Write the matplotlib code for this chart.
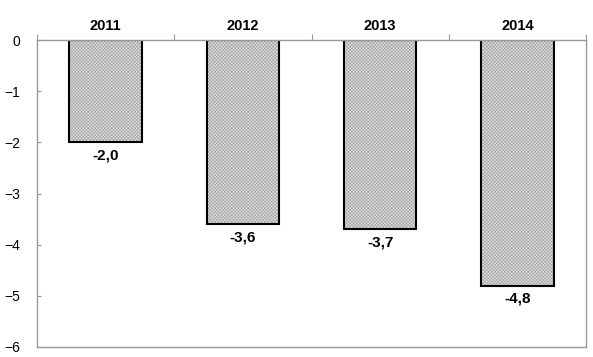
import matplotlib
matplotlib.use("Agg")
import matplotlib.pyplot as plt
import numpy as np

years = ["2011", "2012", "2013", "2014"]
values = [-2.0, -3.6, -3.7, -4.8]
labels = ["-2,0", "-3,6", "-3,7", "-4,8"]
yticks = [0, -1, -2, -3, -4, -5, -6]

plt.rcParams['font.family'] = ['Liberation Sans', 'DejaVu Sans']
plt.rcParams['hatch.linewidth'] = 0.4

fig = plt.figure(figsize=(5.93, 3.57), dpi=100)
ax = fig.add_axes([37/593, 1-347/357, (586-37)/593, (347-40)/357])

x = np.arange(len(years))
w = 0.53
ax.bar(x, values, width=w, color='#dedede', edgecolor='#a0a0a0', hatch='x' * 10, linewidth=0)
ax.bar(x, values, width=w, fill=False, edgecolor='black', linewidth=1.5)

for xi, v, lab in zip(x, values, labels):
    ax.text(xi, v - 0.12, lab, ha='center', va='top', fontsize=11, fontweight='bold')

ax.set_xlim(-0.5, len(years) - 0.5)
ax.set_ylim(-6, 0)
ax.set_yticks(yticks)
ax.set_yticklabels(["0"] + ["\u2212%d" % (-t) for t in yticks[1:]], fontsize=10)
ax.tick_params(axis='y', direction='in', length=3, color='#999999', pad=12)

ax.xaxis.tick_top()
ax.set_xticks(np.arange(len(years) + 1) - 0.5, minor=False)
ax.set_xticklabels([])
ax.set_xticks(x, minor=True)
ax.set_xticklabels(years, minor=True, fontsize=10.5, fontweight='bold')
ax.tick_params(axis='x', which='major', direction='out', length=4, color='#999999')
ax.tick_params(axis='x', which='minor', length=0, pad=5)

for s in ax.spines.values():
    s.set_color('#999999')
    s.set_linewidth(1.0)

fig.savefig("out.png", dpi=100)
